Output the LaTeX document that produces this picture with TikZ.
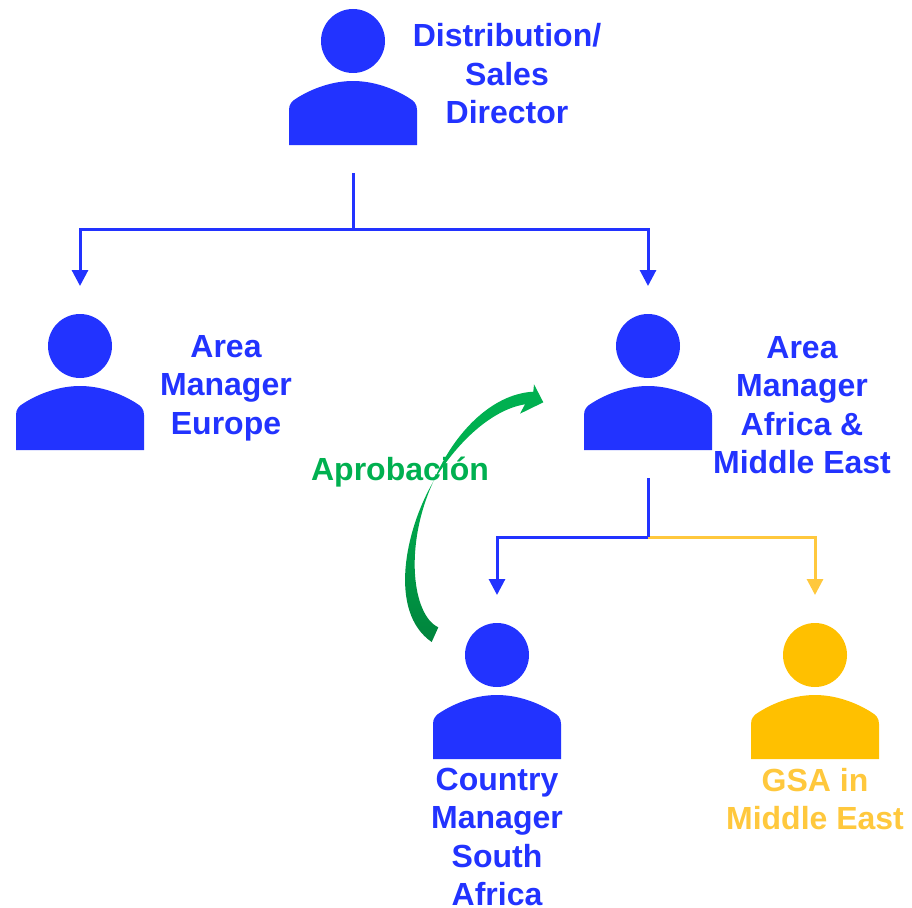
\documentclass[tikz,border=0pt]{standalone}
\usepackage{fontspec}
\setmainfont{Liberation Sans}
\usetikzlibrary{arrows.meta,shapes.geometric}
\definecolor{staffblue}{HTML}{2233FF}
\definecolor{gsayellow}{HTML}{FFC000}
\definecolor{gsaline}{HTML}{FFC83D}
\definecolor{okgreen}{HTML}{00B050}
\definecolor{okdark}{HTML}{00843C}
\tikzset{
  pics/personbody/.style={code={
    \fill (-64,104) -- (-64,69) .. controls (-64,63) and (-61,60) .. (-56,57)
      .. controls (-40,47) and (-20,40) .. (0,40)
      .. controls (20,40) and (40,47) .. (56,57)
      .. controls (61,60) and (64,63) .. (64,69) -- (64,104) -- cycle;
  }}
}
\begin{document}
\begin{tikzpicture}[x=1pt,y=-1pt]
        \tikzstyle{head}=[circle,minimum size=64pt,inner sep=0pt,fill=staffblue]
        \tikzstyle{title}=[align=center,inner sep=0pt,text=staffblue,font=\fontsize{32}{38.5}\selectfont\bfseries]
        \tikzstyle{link}=[draw=staffblue,line width=3pt]
        \tikzstyle{linkto}=[link,-{Triangle[length=16pt,width=16pt]}]
        \useasboundingbox (0,0) rectangle (912,907);
        % people
        \node[head] (director) at (353,41) {};
        \pic[color=staffblue] at (director.center) {personbody};
        \node[title] (directorText) at (507,74) {Distribution/\\Sales\\Director};
        \node[head] (europe) at (80,346) {};
        \pic[color=staffblue] at (europe.center) {personbody};
        \node[title] (europeText) at (226,388) {Area\\Manager\\Europe};
        \node[head] (africa) at (648,346) {};
        \pic[color=staffblue] at (africa.center) {personbody};
        \node[title] (africaText) at (802,405) {Area\\Manager\\Africa \&\\Middle East};
        \node[head] (country) at (497,655) {};
        \pic[color=staffblue] at (country.center) {personbody};
        \node[title] (countryText) at (497,837) {Country\\Manager\\South\\Africa};
        \node[head,fill=gsayellow] (gsa) at (815,655) {};
        \pic[color=gsayellow] at (gsa.center) {personbody};
        \node[title,text=gsaline] (gsaText) at (815,799) {GSA in\\Middle East};
        % connector ends
        \coordinate (directorOut) at (353,173);
        \coordinate (directorJoin) at (353,229);
        \coordinate (europeIn) at (80,286);
        \coordinate (africaIn) at (648,286);
        \coordinate (africaOut) at (648,478);
        \coordinate (africaJoin) at (648,537);
        \coordinate (countryIn) at (497,595);
        \coordinate (gsaIn) at (815,595);
        \draw[link] (directorOut) -- (directorJoin);
        \draw[linkto] (directorJoin) -| (europeIn);
        \draw[linkto] (directorJoin) -| (africaIn);
        \draw[linkto,draw=gsaline] (africaJoin) -| (gsaIn);
        \draw[linkto] (africaJoin) -| (countryIn);
        \draw[link] (africaOut) -- (africaJoin);
        % approval arrow
        \shade[top color=okgreen,bottom color=okdark] (433.3,481.7)
          .. controls (405,530) and (388,612) .. (431.7,642)
          -- (438.3,627.3)
          .. controls (412,615) and (404,545) .. (433.3,481.7) -- cycle;
        \fill[okgreen] (433.3,481.7)
          .. controls (452,436) and (490,394) .. (533.3,391.7)
          -- (534,384.3) -- (543.3,402.3) -- (520,413.7) -- (525,404.3)
          .. controls (490,410) and (455,445) .. (433.3,481.7) -- cycle;
        \node[title,text=okgreen] (approvalText) at (400,472) {Aprobación};
\end{tikzpicture}
\end{document}
